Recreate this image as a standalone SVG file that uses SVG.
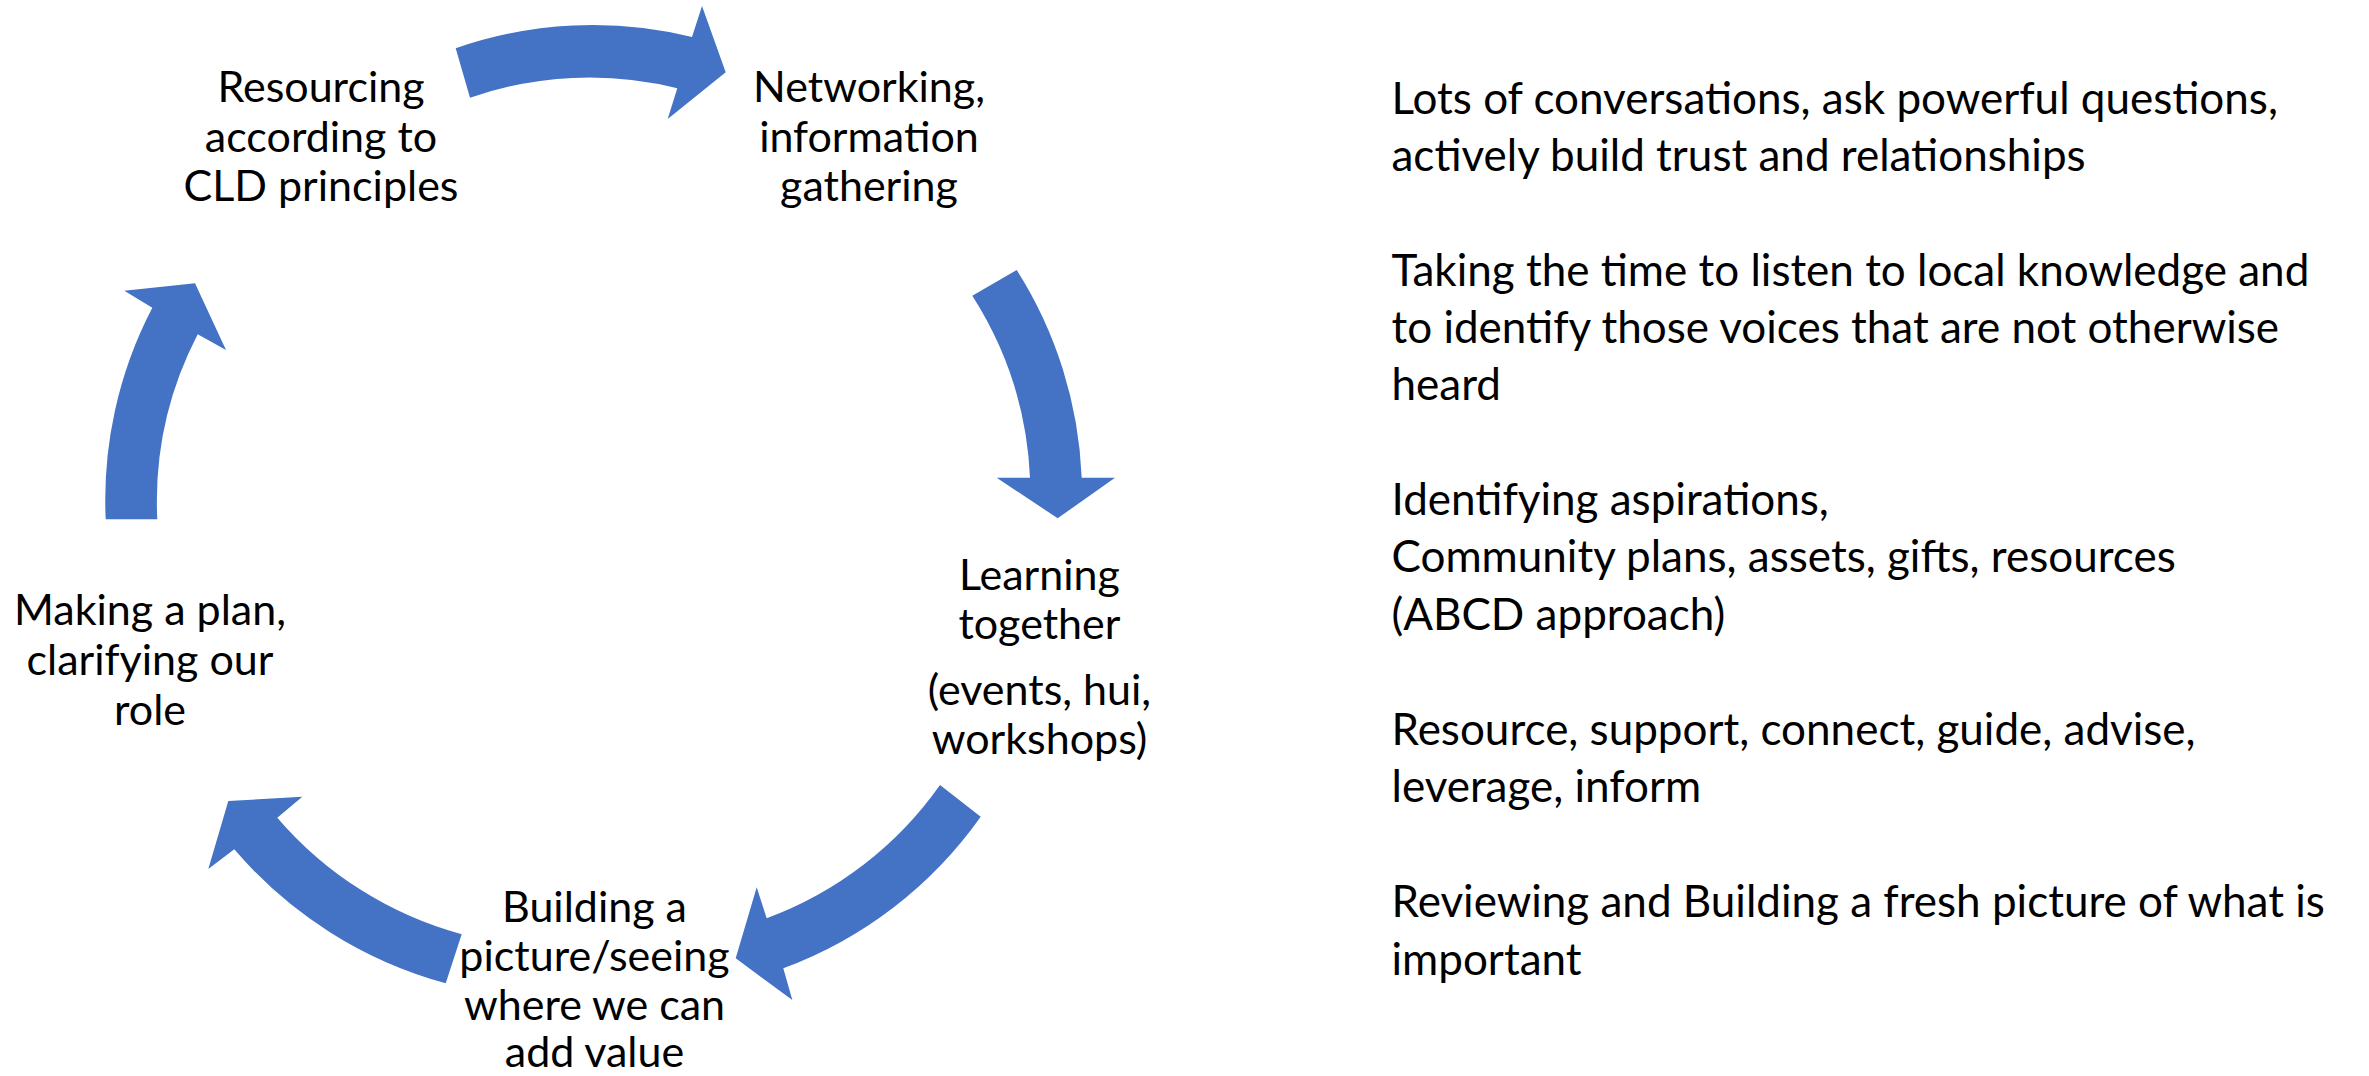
<svg xmlns="http://www.w3.org/2000/svg" width="2369" height="1076" viewBox="0 0 2369 1076">
<style>
.arrow{fill:#4472C4;stroke:none}
.lbl{font-family:Lato,"Open Sans",sans-serif;font-size:43px;fill:#000;text-anchor:middle}
.side{font-family:Lato,"Open Sans",sans-serif;font-size:44px;fill:#000}
</style>
<rect width="2369" height="1076" fill="#fff"/>
<g id="connectors">
<path class="arrow" d="M455.7 48.3 A416 416 0 0 1 692 37 L702 6 L725.7 72.3 L667.7 119 L677.3 88.3 A364 364 0 0 0 470 97.7 Z"/>
<path class="arrow" d="M1016.7 270 A419 419 0 0 1 1081.7 477.7 L1115 477.7 L1057.7 518.3 L996.7 477.7 L1030 477.7 A368 368 0 0 0 972.3 295.7 Z"/>
<path class="arrow" d="M940 785 A368 368 0 0 1 766.7 918.3 L756.7 887.3 L735.7 958.3 L792.3 1000 L783.3 968.3 A420 420 0 0 0 980.7 816.7 Z"/>
<path class="arrow" d="M461.7 934.3 A371 371 0 0 1 277.3 817.7 L302.3 796.7 L228.3 801 L208.3 869 L234.3 849.3 A424 424 0 0 0 445.7 983.3 Z"/>
<path class="arrow" d="M157.3 519.3 A364 364 0 0 1 197.7 334.3 L226 350 L195 283.3 L124.3 290.7 L152.3 307.7 A416 416 0 0 0 105.7 519.3 Z"/>
</g>
<g id="node-resourcing">
<text class="lbl" x="321" y="102">Resourcing</text>
<text class="lbl" x="321" y="151.5">according to</text>
<text class="lbl" x="321" y="201">CLD principles</text>
</g>
<g id="node-networking">
<text class="lbl" x="869" y="102">Networking,</text>
<text class="lbl" x="869" y="151.5">information</text>
<text class="lbl" x="869" y="201">gathering</text>
</g>
<g id="node-learning">
<text class="lbl" x="1039.5" y="590">Learning</text>
<text class="lbl" x="1039.5" y="639">together</text>
<text class="lbl" x="1039.5" y="705">(events, hui,</text>
<text class="lbl" x="1039.5" y="754">workshops)</text>
</g>
<g id="node-building">
<text class="lbl" x="594.5" y="922">Building a</text>
<text class="lbl" x="594.5" y="971">picture/seeing</text>
<text class="lbl" x="594.5" y="1020">where we can</text>
<text class="lbl" x="594.5" y="1067">add value</text>
</g>
<g id="node-making">
<text class="lbl" x="150" y="625">Making a plan,</text>
<text class="lbl" x="150" y="675">clarifying our</text>
<text class="lbl" x="150" y="725">role</text>
</g>
<g id="notes">
<text class="side" x="1391.5" y="114">Lots of conversations, ask powerful questions,</text>
<text class="side" x="1391.5" y="171">actively build trust and relationships</text>
<text class="side" x="1391.5" y="286">Taking the time to listen to local knowledge and</text>
<text class="side" x="1391.5" y="343">to identify those voices that are not otherwise</text>
<text class="side" x="1391.5" y="400">heard</text>
<text class="side" x="1391.5" y="514.5">Identifying aspirations,</text>
<text class="side" x="1391.5" y="572">Community plans, assets, gifts, resources</text>
<text class="side" x="1391.5" y="629.5">(ABCD approach)</text>
<text class="side" x="1391.5" y="744.5">Resource, support, connect, guide, advise,</text>
<text class="side" x="1391.5" y="802">leverage, inform</text>
<text class="side" x="1391.5" y="917">Reviewing and Building a fresh picture of what is</text>
<text class="side" x="1391.5" y="974.5">important</text>
</g>
</svg>
